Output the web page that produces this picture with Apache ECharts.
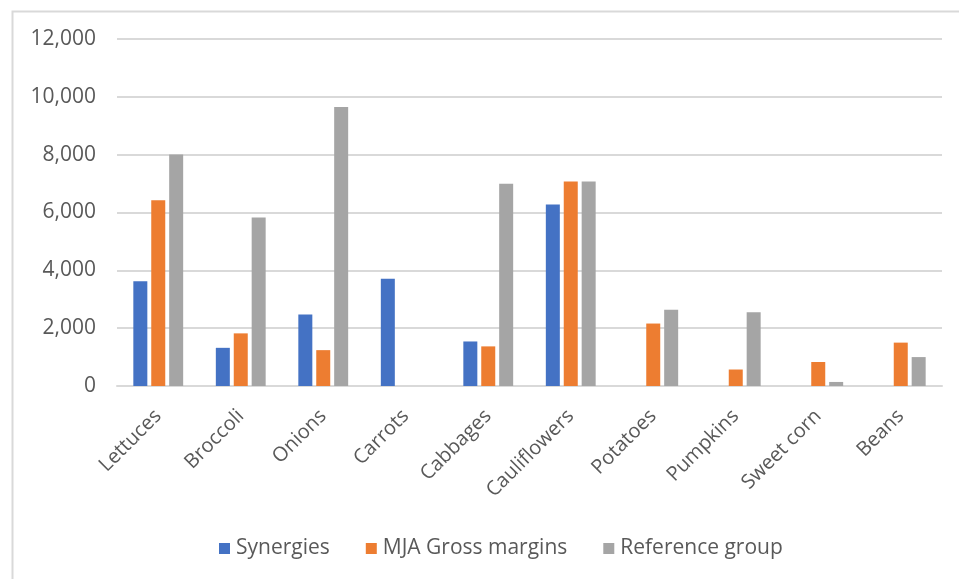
<!DOCTYPE html>
<html>
<head>
<meta charset="utf-8">
<script src="https://cdn.jsdelivr.net/npm/echarts@6/dist/echarts.min.js"></script>
<style>
  html, body { margin: 0; padding: 0; background: #fff; }
  #chart { width: 959px; height: 579px; }
</style>
</head>
<body>
<div id="chart"></div>
<script>
// Crop categories and per-series values
const categories = ['Lettuces', 'Broccoli', 'Onions', 'Carrots', 'Cabbages', 'Cauliflowers', 'Potatoes', 'Pumpkins', 'Sweet corn', 'Beans'];
const synergies = [3620, 1320, 2470, 3710, 1540, 6280, null, null, null, null];
const mjaGrossMargins = [6420, 1820, 1240, null, 1370, 7070, 2160, 570, 830, 1500];
const referenceGroup = [8010, 5830, 9650, null, 6990, 7070, 2640, 2550, 140, 1000];
const seriesNames = ['Synergies', 'MJA Gross margins', 'Reference group'];

const FONT = '"Open Sans", "Noto Sans", sans-serif';
const TEXT = '#595959';
const GRID = '#d9d9d9';

const chart = echarts.init(document.getElementById('chart'), null, { renderer: 'canvas' });

function barSeries(name, data, color) {
  return {
    name: name,
    type: 'bar',
    data: data,
    barWidth: 14,
    barGap: '28%',
    itemStyle: { color: color },
    emphasis: { disabled: true }
  };
}

chart.setOption({
  animation: false,
  backgroundColor: '#ffffff',
  graphic: [{
    type: 'rect',
    left: 10,
    top: 9,
    shape: { width: 1000, height: 1000 },
    style: { fill: 'none', stroke: GRID, lineWidth: 2 },
    silent: true
  }],
  grid: { left: 117, right: 17, top: 39, bottom: 193, containLabel: false },
  legend: {
    bottom: 15,
    left: 214,
    itemWidth: 11,
    itemHeight: 11,
    itemGap: 36,
    icon: 'rect',
    data: seriesNames,
    textStyle: { fontFamily: FONT, fontSize: 21, color: TEXT, padding: [0, 0, 0, 1] }
  },
  xAxis: {
    type: 'category',
    data: categories,
    axisLine: { show: true, lineStyle: { color: GRID, width: 2 } },
    axisTick: { show: false },
    axisLabel: {
      rotate: 45,
      margin: 27,
      interval: 0,
      fontFamily: FONT,
      fontSize: 20,
      color: TEXT
    }
  },
  yAxis: {
    type: 'value',
    min: 0,
    max: 12000,
    interval: 2000,
    axisLine: { show: false },
    axisTick: { show: false },
    splitLine: { lineStyle: { color: GRID, width: 2 } },
    axisLabel: {
      margin: 21,
      fontFamily: FONT,
      fontSize: 21,
      color: TEXT,
      formatter: function (v) { return v.toLocaleString('en-US'); }
    }
  },
  series: [
    barSeries(seriesNames[0], synergies, '#4472C4'),
    barSeries(seriesNames[1], mjaGrossMargins, '#ED7D31'),
    barSeries(seriesNames[2], referenceGroup, '#A5A5A5')
  ]
});
</script>
</body>
</html>
